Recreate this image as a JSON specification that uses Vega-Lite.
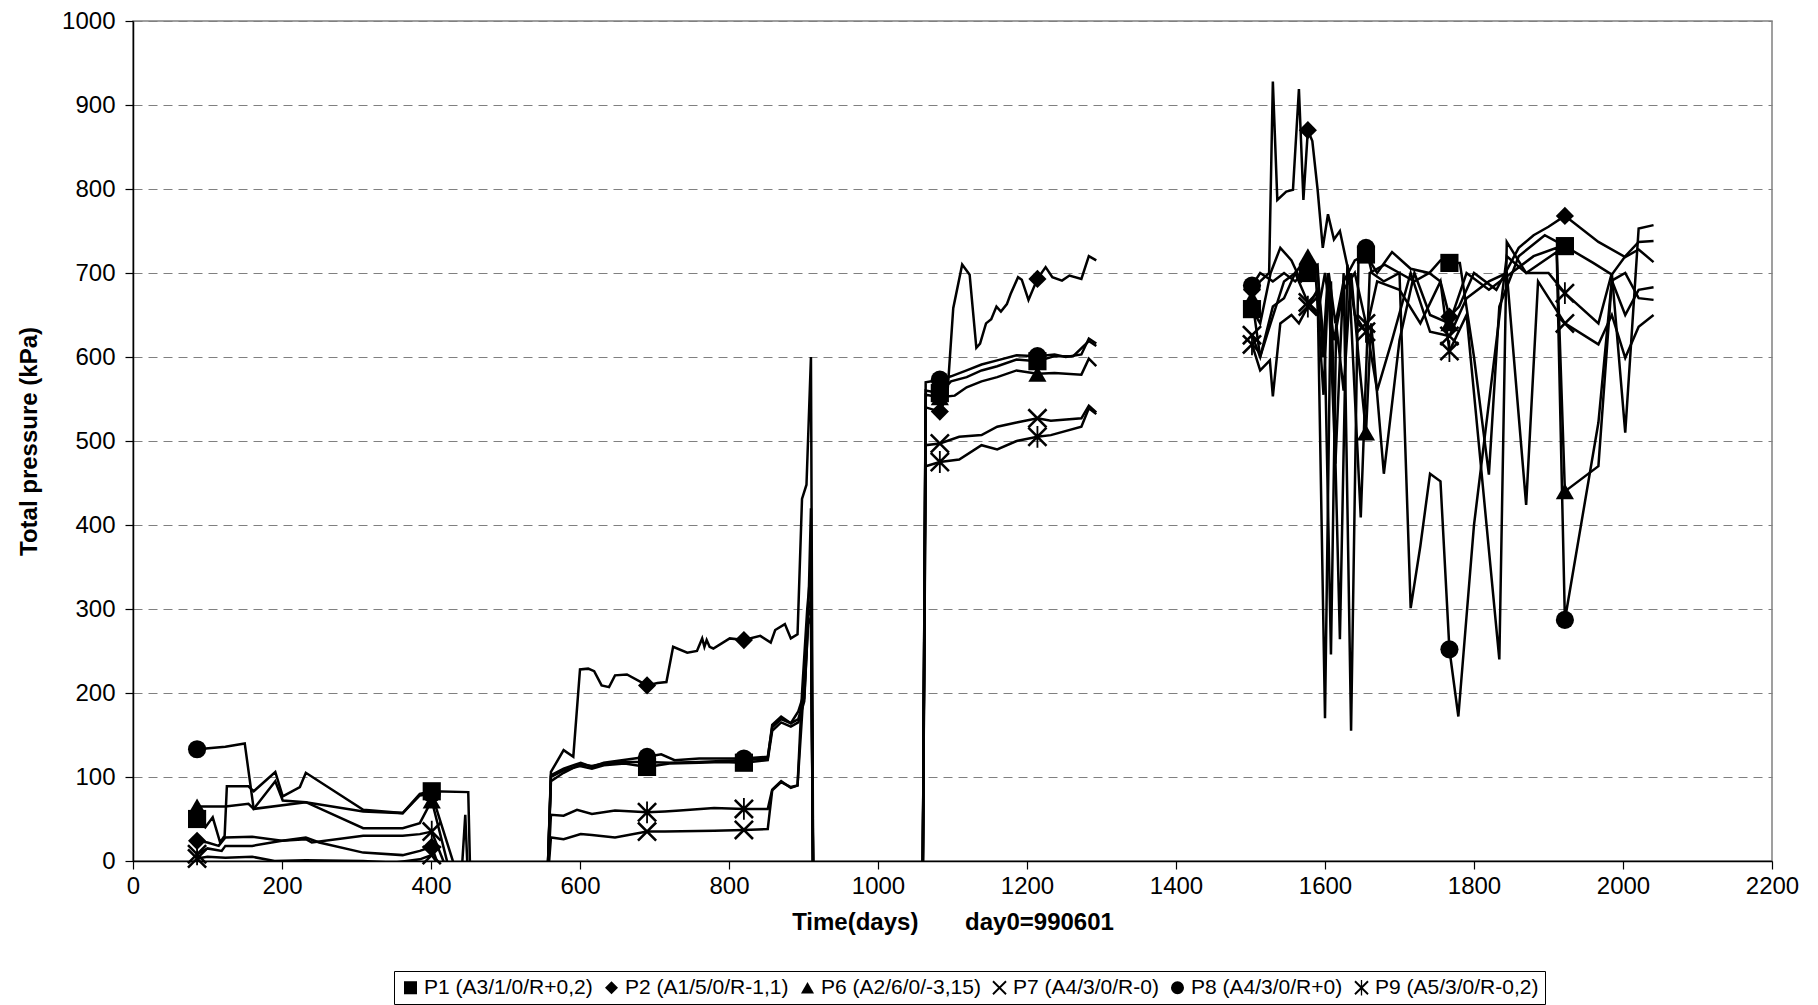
{
  "$schema": "https://vega.github.io/schema/vega-lite/v6.json",
  "width": 1639,
  "height": 840,
  "autosize": {"type": "none"},
  "padding": {"left": 133, "top": 21, "right": 46, "bottom": 144},
  "background": "white",
  "config": {
    "font": "Liberation Sans",
    "view": {"stroke": "#808080", "strokeWidth": 1.5},
    "axis": {
      "labelFont": "Liberation Sans", "labelFontSize": 24, "labelColor": "black",
      "titleFont": "Liberation Sans", "titleFontSize": 24, "titleFontWeight": "bold", "titleColor": "black",
      "domainColor": "black", "domainWidth": 1.5, "tickColor": "black", "tickSize": 8, "tickWidth": 1.2
    }
  },
  "datasets": {
    "lines": [
      {"series": "P1 (A3/1/0/R+0,2)",
       "d": [86,97,107,117,123,126,155,162,191,201,224,232,309,362,385,401,450,453,556,561,578,600,616,632,660,690,720,760,790,820,852,858,870,883,893,901,906,910,913,1060,1064,1083,1098,1119,1139,1160,1186,1214,1237,1262,1283,1293,1400,1502,1513,1527,1540,1555,1568,1577,1588,1598,1605,1614,1625,1640,1655,1670,1690,1715,1740,1755,1767,1781,1800,1820,1834,1860,1895,1922,1960,1985,2003,2021,2041],
       "v": [50,40,52,22,30,89,89,83,106,77,88,105,61,57,80,83,82,-30,-30,100,108,113,110,114,116,112,116,117,118,117,120,155,165,160,165,190,280,420,-30,-30,560,557,571,576,584,589,597,595,601,601,619,613,null,657,640,700,730,715,690,700,690,555,700,640,690,715,722,700,725,705,700,715,712,712,600,460,660,720,745,732,712,698,720,737,738]},
      {"series": "P2 (A1/5/0/R-1,1)",
       "d": [86,100,115,124,160,200,232,250,309,362,385,401,420,556,561,578,591,600,611,619,629,639,647,663,690,704,716,725,744,757,764,767,770,774,779,801,820,842,856,862,875,883,892,898,904,910,913,1060,1064,1083,1093,1101,1113,1123,1132,1137,1145,1152,1159,1165,1173,1178,1188,1193,1202,1214,1225,1234,1247,1257,1273,1283,1293,1400,1502,1513,1525,1530,1536,1548,1557,1565,1571,1577,1583,1590,1597,1604,1612,1620,1632,1648,1660,1680,1700,1720,1740,1755,1767,1780,1800,1830,1860,1880,1900,1922,1967,2003,2021,2041],
       "v": [24,22,18,28,29,24,28,22,10,7,12,17,-30,-30,106,132,124,228,229,226,209,207,221,222,209,212,213,255,248,250,265,255,263,255,253,265,263,268,260,275,282,265,270,431,448,600,-30,-30,540,535,554,658,710,698,611,616,640,645,660,654,663,675,695,692,668,693,707,695,691,697,693,720,715,null,680,690,700,928,787,797,799,919,787,870,857,800,730,770,740,750,700,409,700,710,700,690,700,690,648,660,700,680,730,745,755,768,737,719,728,713]},
      {"series": "P6 (A2/6/0/-3,15)",
       "d": [86,124,155,162,191,201,232,309,362,385,401,430,556,561,578,600,616,632,660,690,720,760,790,820,852,858,870,883,893,901,906,910,913,1060,1064,1083,1103,1119,1139,1160,1186,1214,1237,1273,1283,1293,1400,1502,1513,1527,1545,1560,1577,1590,1600,1608,1615,1625,1635,1645,1655,1662,1679,1700,1720,1741,1767,1790,1820,1850,1880,1911,1922,1967,1985,2003,2021,2041],
       "v": [65,65,68,62,95,72,70,39,39,45,72,-30,-30,95,105,115,113,116,118,118,117,118,119,120,122,162,172,164,178,200,292,300,-30,-30,555,552,554,564,571,576,584,580,581,579,598,589,null,670,600,640,690,700,720,700,600,246,640,560,700,600,510,640,461,620,700,650,640,700,680,700,720,730,440,470,691,700,670,668]},
      {"series": "P7 (A4/3/0/R-0)",
       "d": [86,100,124,160,190,232,309,350,385,401,430,556,561,578,601,616,647,690,714,780,820,852,858,870,883,892,898,905,910,913,1060,1064,1083,1109,1139,1160,1186,1214,1232,1273,1283,1293,1400,1502,1513,1530,1545,1560,1577,1590,1600,1612,1625,1640,1655,1670,1690,1715,1741,1767,1790,1820,1844,1870,1886,1922,1967,1985,2003,2021,2041],
       "v": [3,5,4,5,0,1,0,-2,2,7,-30,-30,28,26,32,31,28,35,35,36,37,38,84,94,88,90,200,300,350,-30,-30,495,497,505,507,517,522,527,524,527,542,534,null,626,600,660,670,700,665,650,700,620,680,700,640,560,620,700,630,625,670,690,700,424,690,640,615,650,599,636,650]},
      {"series": "P8 (A4/3/0/R+0)",
       "d": [86,124,150,162,232,309,362,385,401,440,446,450,556,561,578,601,616,632,690,709,727,760,820,852,858,870,883,893,901,906,910,913,1060,1064,1083,1098,1119,1139,1160,1186,1214,1237,1252,1273,1283,1293,1400,1502,1513,1530,1545,1560,1577,1590,1597,1604,1614,1625,1635,1645,1655,1663,1679,1700,1715,1728,1741,1755,1767,1779,1800,1844,1870,1911,1922,1967,1985,2003,2021,2041],
       "v": [133,136,140,62,70,59,57,78,80,-30,55,-30,-30,102,110,117,112,117,124,127,120,122,122,124,159,169,164,169,194,282,290,-30,-30,570,573,577,584,591,596,602,601,603,600,603,622,616,null,685,700,690,700,690,705,710,600,700,473,700,155,720,730,700,690,700,301,375,461,452,252,172,400,720,700,725,287,522,691,650,680,683]},
      {"series": "P9 (A5/3/0/R-0,2)",
       "d": [86,100,119,124,160,200,232,240,309,362,385,401,430,556,561,578,596,616,647,690,714,734,780,820,852,858,870,883,892,900,906,910,913,1060,1064,1083,1109,1139,1160,1186,1214,1232,1273,1283,1293,1400,1502,1513,1526,1530,1540,1555,1565,1577,1590,1600,1608,1620,1630,1640,1655,1670,1700,1728,1755,1767,1790,1834,1844,1870,1900,1922,1967,1985,2003,2021,2041],
       "v": [8,15,12,18,18,24,26,22,30,30,32,35,-30,-30,55,54,61,56,60,58,59,60,63,62,62,85,95,87,90,200,300,310,-30,-30,470,475,478,495,490,500,505,507,517,539,532,null,615,584,596,553,640,650,640,660,680,170,690,264,710,650,630,690,680,640,690,607,650,240,737,700,700,676,640,700,510,753,757]}
    ],
    "markers": [
      {"series": "P1 (A3/1/0/R+0,2)", "d": [86,401,690,820,1083,1214,1502,1577,1655,1767,1922], "v": [50,83,112,117,557,595,657,700,722,712,732]},
      {"series": "P2 (A1/5/0/R-1,1)", "d": [86,401,690,820,1083,1214,1502,1577,1767,1922], "v": [24,17,209,263,535,693,680,870,648,768]},
      {"series": "P6 (A2/6/0/-3,15)", "d": [86,401,690,820,1083,1214,1502,1577,1655,1767,1922], "v": [65,72,118,120,552,580,670,720,510,640,440]},
      {"series": "P7 (A4/3/0/R-0)", "d": [86,401,690,820,1083,1214,1502,1577,1655,1767,1922], "v": [3,7,35,37,497,527,626,665,640,625,640]},
      {"series": "P8 (A4/3/0/R+0)", "d": [86,401,690,820,1083,1214,1502,1577,1655,1767,1922], "v": [133,80,124,122,573,601,685,705,730,252,287]},
      {"series": "P9 (A5/3/0/R-0,2)", "d": [86,401,690,820,1083,1214,1502,1577,1655,1767,1922], "v": [8,35,58,62,475,505,615,660,630,607,676]}
    ]
  },
  "encoding": {
    "x": {"field": "d", "type": "quantitative",
          "scale": {"domain": [0, 2200], "nice": false},
          "axis": {"values": [0,200,400,600,800,1000,1200,1400,1600,1800,2000,2200], "format": "d",
                   "title": "Time(days)\u00a0\u00a0\u00a0\u00a0\u00a0\u00a0\u00a0day0=990601",
                   "grid": false, "labelFlush": false, "labelPadding": 5, "titlePadding": 12}},
    "y": {"field": "v", "type": "quantitative",
          "scale": {"domain": [0, 1000], "nice": false, "zero": false},
          "axis": {"values": [0,100,200,300,400,500,600,700,800,900,1000], "format": "d",
                   "title": "Total pressure (kPa)", "grid": true, "gridDash": [9, 6], "gridColor": "#808080", "gridWidth": 1.2,
                   "labelPadding": 10, "titlePadding": 20}}
  },
  "layer": [
    {"data": {"name": "lines"},
     "transform": [{"flatten": ["d", "v"]}],
     "mark": {"type": "line", "color": "black", "strokeWidth": 2.5, "clip": true, "invalid": "break-paths-filter-domains"},
     "encoding": {"detail": {"field": "series", "type": "nominal"}}},
    {"data": {"name": "markers"},
     "transform": [{"flatten": ["d", "v"]}],
     "mark": {"type": "point", "filled": true, "color": "black", "strokeWidth": 0, "size": 330, "opacity": 1},
     "encoding": {
       "shape": {"field": "series", "type": "nominal",
                 "scale": {"domain": ["P1 (A3/1/0/R+0,2)", "P2 (A1/5/0/R-1,1)", "P6 (A2/6/0/-3,15)", "P7 (A4/3/0/R-0)", "P8 (A4/3/0/R+0)", "P9 (A5/3/0/R-0,2)"],
                           "range": ["square", "diamond", "triangle-up",
                                     "M-0.9,-1.1L1.1,0.9L0.9,1.1L-1.1,-0.9ZM-0.9,1.1L-1.1,0.9L0.9,-1.1L1.1,-0.9Z",
                                     "circle",
                                     "M-0.9,-1.1L1.1,0.9L0.9,1.1L-1.1,-0.9ZM-0.9,1.1L-1.1,0.9L0.9,-1.1L1.1,-0.9ZM-0.1,-1.2L0.1,-1.2L0.1,1.2L-0.1,1.2Z"]},
                 "legend": {"title": null, "orient": "none", "legendX": 261, "legendY": 950, "direction": "horizontal", "columns": 6,
                            "strokeColor": "black", "fillColor": "white", "padding": 6,
                            "labelFont": "Liberation Sans", "labelFontSize": 21, "labelColor": "black", "labelOffset": 3, "labelLimit": 0,
                            "symbolSize": 170, "symbolFillColor": "black", "symbolStrokeWidth": 0, "symbolOpacity": 1,
                            "columnPadding": 8}}
     }}
  ]
}
